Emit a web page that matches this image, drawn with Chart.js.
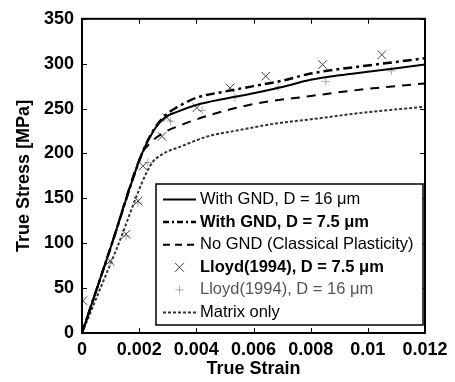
<!DOCTYPE html>
<html>
<head>
<meta charset="utf-8">
<script src="https://cdn.jsdelivr.net/npm/chart.js@4.4.0/dist/chart.umd.min.js"></script>
<style>
  html, body { margin: 0; padding: 0; background: #fff; }
  canvas { display: block; }
</style>
</head>
<body>
<canvas id="stressChart" width="455" height="382"></canvas>
<script>
// strain / stress
const xTicks = [0, 0.002, 0.004, 0.006, 0.008, 0.010, 0.012];
const yTicks = [0, 50, 100, 150, 200, 250, 300, 350];

const gnd16Strain = [0, 0.0010, 0.0021, 0.0025, 0.0029, 0.0033, 0.004, 0.005, 0.006, 0.007, 0.008, 0.009, 0.010, 0.011, 0.012];
const gnd16Stress = [0, 95, 200, 225, 240, 246, 254, 261, 267, 274, 282, 287, 291, 295, 299];

const gnd75Strain = [0, 0.0010, 0.0021, 0.0025, 0.0029, 0.0033, 0.004, 0.005, 0.006, 0.007, 0.008, 0.009, 0.010, 0.011, 0.012];
const gnd75Stress = [0, 95, 200, 226, 242, 251, 262, 269, 275, 281, 289, 294, 298, 302, 306];

const noGndStrain = [0, 0.0010, 0.0021, 0.0024, 0.0028, 0.0035, 0.0045, 0.006, 0.008, 0.010, 0.012];
const noGndStress = [0, 95, 200, 212, 222, 232, 243, 255, 264, 272, 278];

const matrixStrain = [0, 0.0012, 0.0024, 0.0028, 0.0034, 0.0044, 0.0055, 0.0067, 0.008, 0.010, 0.012];
const matrixStress = [0, 93, 187, 199, 207, 219, 226, 233, 238, 246, 252];

const lloyd75Strain = [0.00003, 0.00098, 0.00154, 0.00196, 0.00214, 0.0028, 0.00297, 0.00402, 0.00518, 0.00643, 0.00842, 0.01049];
const lloyd75Stress = [36, 80, 110, 147, 186, 219, 240, 251, 273, 286, 299, 310];

const lloyd16Strain = [0.00098, 0.00154, 0.00196, 0.0023, 0.0031, 0.0042, 0.00535, 0.00686, 0.00853, 0.01083];
const lloyd16Stress = [78, 108, 145, 190, 236, 248, 262, 274, 280, 292];

const FONT = '"Liberation Sans", Arial, sans-serif';

function pts(xs, ys) {
  return xs.map((x, i) => ({ x, y: ys[i] }));
}

const frameAndLegend = {
  id: 'frameAndLegend',
  afterDatasetsDraw(chart) {
    const { ctx, chartArea: a, scales } = chart;
    ctx.save();
    // inward ticks
    ctx.strokeStyle = '#000';
    ctx.lineWidth = 1;
    ctx.beginPath();
    xTicks.forEach(v => {
      const x = Math.round(scales.x.getPixelForValue(v)) + 0.5;
      ctx.moveTo(x, a.bottom); ctx.lineTo(x, a.bottom - 5);
      ctx.moveTo(x, a.top); ctx.lineTo(x, a.top + 5);
    });
    yTicks.forEach(v => {
      const y = Math.round(scales.y.getPixelForValue(v)) + 0.5;
      ctx.moveTo(a.left, y); ctx.lineTo(a.left + 5, y);
      ctx.moveTo(a.right, y); ctx.lineTo(a.right - 5, y);
    });
    ctx.stroke();

    // legend box
    const bx = a.left + 74, by = a.bottom - 149, bw = a.right - 2 - bx, bh = 141;
    ctx.fillStyle = '#fff';
    ctx.fillRect(bx, by, bw, bh);
    ctx.lineWidth = 1.5;
    ctx.strokeRect(bx, by, bw, bh);

    const rows = chart.data.datasets;
    rows.forEach((ds, i) => {
      const y = by + 15.5 + i * 22.6;
      const x0 = bx + 7, x1 = bx + 40, xm = (x0 + x1) / 2;
      ctx.save();
      if (ds.showLine) {
        ctx.strokeStyle = ds.borderColor;
        ctx.lineWidth = ds.borderWidth;
        ctx.setLineDash(ds.legendDash || ds.borderDash || []);
        ctx.beginPath();
        ctx.moveTo(x0, y); ctx.lineTo(x1, y);
        ctx.stroke();
      } else {
        ctx.strokeStyle = ds.borderColor;
        ctx.lineWidth = 1;
        const r = ds.pointRadius;
        ctx.beginPath();
        if (ds.pointStyle === 'crossRot') {
          const d = r * 0.75;
          ctx.moveTo(xm - d, y - d); ctx.lineTo(xm + d, y + d);
          ctx.moveTo(xm - d, y + d); ctx.lineTo(xm + d, y - d);
        } else {
          ctx.moveTo(xm - r, y); ctx.lineTo(xm + r, y);
          ctx.moveTo(xm, y - r); ctx.lineTo(xm, y + r);
        }
        ctx.stroke();
      }
      ctx.restore();
      ctx.fillStyle = ds.legendColor || '#000';
      ctx.font = (ds.legendBold ? 'bold ' : '') + '16.5px ' + FONT;
      ctx.textBaseline = 'middle';
      ctx.fillText(ds.label, bx + 44, y);
    });

    // frame
    ctx.strokeStyle = '#000';
    ctx.lineWidth = 2;
    ctx.strokeRect(a.left, a.top, a.right - a.left, a.bottom - a.top);
    ctx.restore();
  },
};

new Chart(document.getElementById('stressChart'), {
  type: 'scatter',
  data: {
    datasets: [
      { label: 'With GND, D = 16 \u03bcm', data: pts(gnd16Strain, gnd16Stress), showLine: true, cubicInterpolationMode: 'monotone', borderColor: '#000', borderWidth: 2, pointRadius: 0 },
      { label: 'With GND, D = 7.5 \u03bcm', data: pts(gnd75Strain, gnd75Stress), showLine: true, cubicInterpolationMode: 'monotone', borderColor: '#000', borderWidth: 2.5, borderDash: [9, 4, 3, 4], legendDash: [6, 3, 2, 3], pointRadius: 0, legendBold: true },
      { label: 'No GND (Classical Plasticity)', data: pts(noGndStrain, noGndStress), showLine: true, cubicInterpolationMode: 'monotone', borderColor: '#000', borderWidth: 2, borderDash: [9, 7], legendDash: [7, 5], pointRadius: 0 },
      { label: 'Lloyd(1994), D = 7.5 \u03bcm', data: pts(lloyd75Strain, lloyd75Stress), showLine: false, borderColor: '#444', backgroundColor: '#444', pointStyle: 'crossRot', pointRadius: 6, pointBorderWidth: 1, legendBold: true },
      { label: 'Lloyd(1994), D = 16 \u03bcm', data: pts(lloyd16Strain, lloyd16Stress), showLine: false, borderColor: '#aaa', backgroundColor: '#aaa', pointStyle: 'cross', pointRadius: 4, pointBorderWidth: 1, legendColor: '#555' },
      { label: 'Matrix only', data: pts(matrixStrain, matrixStress), showLine: true, cubicInterpolationMode: 'monotone', borderColor: '#333', borderWidth: 2, borderDash: [3, 2], pointRadius: 0 },
    ],
  },
  options: {
    responsive: false,
    animation: false,
    layout: { padding: { top: 12, right: 30, left: 0, bottom: 0 } },
    plugins: { legend: { display: false }, tooltip: { enabled: false } },
    scales: {
      x: {
        type: 'linear', min: 0, max: 0.012,
        afterFit(scale) { scale.height = 49; },
        afterBuildTicks(scale) { scale.ticks = xTicks.map(v => ({ value: v })); },
        grid: { display: false, drawTicks: false },
        border: { display: false },
        ticks: {
          color: '#000', padding: 6, maxRotation: 0, autoSkip: false,
          font: { family: FONT, size: 18, weight: 'bold' },
          callback: v => v === 0 ? '0' : String(+v.toFixed(3)),
        },
        title: { display: true, text: 'True Strain', color: '#000', padding: { top: 0, bottom: 2 }, font: { family: FONT, size: 18, weight: 'bold' } },
      },
      y: {
        min: 0, max: 350,
        afterFit(scale) { scale.width = 82; },
        afterBuildTicks(scale) { scale.ticks = yTicks.map(v => ({ value: v })); },
        grid: { display: false, drawTicks: false },
        border: { display: false },
        ticks: { color: '#000', padding: 8, autoSkip: false, font: { family: FONT, size: 18, weight: 'bold' } },
        title: { display: true, text: 'True Stress [MPa]', color: '#000', padding: { top: 13, bottom: 0 }, font: { family: FONT, size: 18, weight: 'bold' } },
      },
    },
  },
  plugins: [frameAndLegend],
});
</script>
</body>
</html>
